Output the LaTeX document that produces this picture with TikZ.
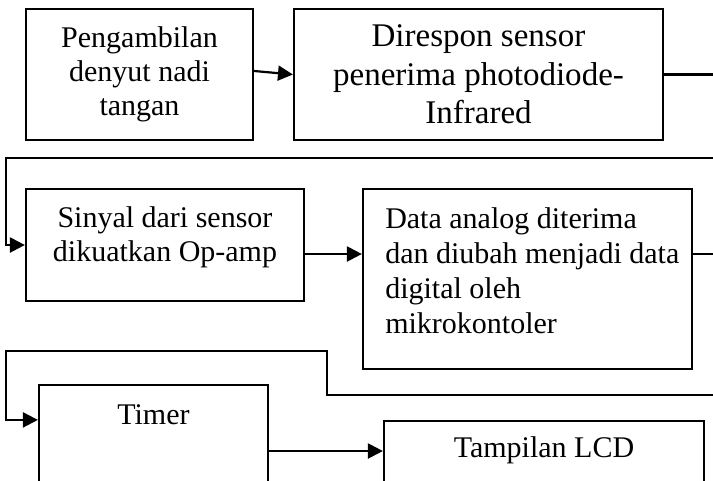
\documentclass[tikz,border=0pt]{standalone}
\usepackage{fontspec}
\setmainfont{Liberation Serif}
\usepackage{tikz}
\usetikzlibrary{arrows.meta,positioning,calc}

\begin{document}
\begin{tikzpicture}[
    kotak/.style = {rectangle,draw,line width=1.25pt,inner sep=0pt,align=center,
                    font=\fontsize{17.07}{19.4}\selectfont},
    teks/.style  = {inner sep=0pt,font=\fontsize{17.07}{19.6}\selectfont},
    fl/.style    = {-{Triangle[length=8.5pt,width=8.5pt]},line width=1.25pt},
    garis/.style = {line width=1.25pt},
  ]
  \useasboundingbox (0,0) rectangle (14.26,-9.6);
  \clip (0,0) rectangle (14.26,-9.6);

  \node[kotak,minimum width=4.54cm,minimum height=2.62cm] (pengambilan) at (2.79,-1.49)
       {Pengambilan\\ denyut nadi\\ tangan};
  \node[kotak,minimum width=7.38cm,minimum height=2.62cm,
        font=\fontsize{18.8}{21.8}\selectfont] (direspon) at (9.57,-1.49)
       {Direspon sensor\\ penerima photodiode-\\ Infrared};
  \node[kotak,minimum width=5.56cm,minimum height=2.24cm] (sinyal) at (3.30,-4.90) {};
  \node[kotak,minimum width=6.58cm,minimum height=3.60cm] (data)   at (10.55,-5.58) {};
  \node[kotak,minimum width=4.58cm,minimum height=2.64cm] (timer)  at (3.07,-9.02) {};
  \node[kotak,minimum width=6.40cm,minimum height=2.00cm] (tampilan) at (10.88,-9.42) {};

  % isi kotak yang teksnya rata atas
  \node[teks,align=center,anchor=north] (sinyalteks) at ([yshift=-0.36cm]sinyal.north)
       {Sinyal dari sensor\\ dikuatkan Op-amp};
  \node[teks,align=left,anchor=north west,font=\fontsize{17.07}{19.9}\selectfont] (datateks)
       at ([xshift=0.46cm,yshift=-0.39cm]data.north west)
       {Data analog diterima\\ dan diubah menjadi data\\ digital oleh\\ mikrokontoler};
  \node[teks,anchor=north] (timerteks) at ([yshift=-0.40cm]timer.north) {Timer};
  \node[teks,anchor=north] (tampilanteks) at ([yshift=-0.33cm]tampilan.north) {Tampilan LCD};

  \coordinate (balik1) at (14.4,-3.16);
  \coordinate (balik2) at (14.4,-7.90);
  \coordinate (k2)     at ([yshift=-0.18cm]sinyal.east);
  \coordinate (masuk5) at ([yshift=-0.72cm]timer.north west);

  \draw[fl] ([yshift=2pt]pengambilan.east) -- (direspon.west);
  \draw[garis] (direspon.east) -- (direspon.east -| balik1);

  % baris ke-2
  \draw[fl] (balik1) -| ([xshift=-0.38cm]sinyal.west) -- (sinyal.west);
  \draw[fl] (k2) -- (k2 -| data.west);
  \draw[garis] (k2 -| data.east) -- (k2 -| balik1);

  % baris ke-3
  \draw[fl] (balik2) -- ++(-7.86,0) -- ++(0,0.88) -| ([xshift=-0.64cm]masuk5) -- (masuk5);
  \draw[fl] (timer.east) -- (timer.east -| tampilan.west);

\end{tikzpicture}
\end{document}
